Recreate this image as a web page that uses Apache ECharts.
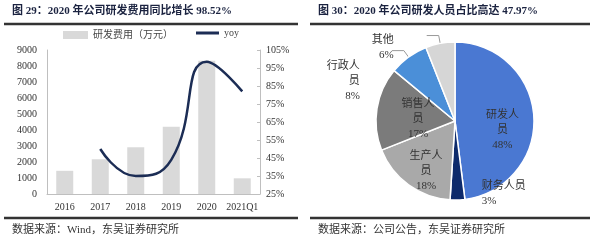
<!DOCTYPE html>
<html><head><meta charset="utf-8">
<script src="https://cdn.jsdelivr.net/npm/echarts@6/dist/echarts.min.js"></script>
<style>html,body{margin:0;padding:0;background:#fff}#c{width:600px;height:241px}</style>
</head><body><div id="c"></div>
<script>
var categories = ['2016','2017','2018','2019','2020','2021Q1'];
var rdExpense = [1450, 2170, 2920, 4200, 8330, 980];
var yoy = [null, 50, 35, 44, 98.52, 82];
var leftTicks = [0, 9000, 1000];
var rightTicks = [25, 105, 10];
var pieNames = ['研发人员','财务人员','生产人员','销售人员','行政人员','其他'];
var pieValues = [48, 3, 18, 17, 8, 6];

var serif = '"Liberation Serif","Noto Sans CJK SC",serif';
var cjk = '"Liberation Serif","Noto Sans CJK SC",sans-serif';
var pieColors = ['#4a78d2','#0d2a6b','#a9a9a9','#7b7b7b','#4b8fd8','#d6d6d6'];
var inside = {0:true,2:true,3:true};
var labelText = {0:'研发人\n员\n48%',1:'财务人员\n3%',2:'生产人\n员\n18%',3:'销售人\n员\n17%',4:'行政人\n员\n8%',5:'其他\n6%'};
var labelShift = {0:[5,12],1:[7,-14],2:[-4,16],3:[5,5],4:[-27,30],5:[-28,12]};

var pieData = pieNames.map(function(n,i){
  return {name:n, value:pieValues[i], itemStyle:{color:pieColors[i]},
    label:{position: inside[i] ? 'inside' : 'outside', formatter: labelText[i]},
    labelLine:{show: i===4 || i===5}};
});

var chart = echarts.init(document.getElementById('c'), null, {renderer:'canvas'});
chart.setOption({
  animation:false,
  graphic:[
    {type:'text', left:12, top:6, style:{text:'图 29：2020 年公司研发费用同比增长 98.52%', font:'bold 11px '+cjk, fill:'#1b2340'}},
    {type:'text', left:318, top:6, style:{text:'图 30：2020 年公司研发人员占比高达 47.97%', font:'bold 11px '+cjk, fill:'#1b2340'}},
    {type:'line', shape:{x1:4,y1:24,x2:298,y2:24}, style:{stroke:'#333',lineWidth:2.5}},
    {type:'line', shape:{x1:310,y1:24,x2:590,y2:24}, style:{stroke:'#333',lineWidth:2.5}},
    {type:'line', shape:{x1:4,y1:218,x2:298,y2:218}, style:{stroke:'#333',lineWidth:2.5}},
    {type:'line', shape:{x1:310,y1:218,x2:590,y2:218}, style:{stroke:'#333',lineWidth:2.5}},
    {type:'text', left:12, top:225, style:{text:'数据来源：Wind，东吴证券研究所', font:'11px '+cjk, fill:'#333'}},
    {type:'text', left:318, top:225, style:{text:'数据来源：公司公告，东吴证券研究所', font:'11px '+cjk, fill:'#333'}}
  ],
  legend:[
    {left:58, top:25, itemWidth:25, itemHeight:8,
     textStyle:{fontSize:10, fontFamily:cjk, color:'#444'},
     data:[{name:'研发费用（万元）', icon:'rect'}]},
    {left:191, top:23, itemWidth:23, itemHeight:3, itemGap:2,
     textStyle:{fontSize:10, fontFamily:cjk, color:'#444'},
     data:[{name:'yoy', icon:'rect'}]}
  ],
  grid:{left:47, right:340, top:50, bottom:47},
  xAxis:{type:'category', data:categories,
    axisLine:{lineStyle:{color:'#bfbfbf'}}, axisTick:{show:false},
    axisLabel:{fontFamily:serif, fontSize:10, color:'#333', margin:8, interval:0}},
  yAxis:[
    {type:'value', min:leftTicks[0], max:leftTicks[1], interval:leftTicks[2],
     axisLine:{show:true, lineStyle:{color:'#bfbfbf'}}, axisTick:{show:false}, splitLine:{show:false},
     axisLabel:{fontFamily:serif, fontSize:10, color:'#333', margin:10, formatter:function(v){return String(v);}}},
    {type:'value', min:rightTicks[0], max:rightTicks[1], interval:rightTicks[2],
     axisLine:{show:true, lineStyle:{color:'#bfbfbf'}}, axisTick:{show:true, inside:true, length:3, lineStyle:{color:'#bfbfbf'}}, splitLine:{show:false},
     axisLabel:{fontFamily:serif, fontSize:10, color:'#333', margin:6, formatter:'{value}%'}}
  ],
  series:[
    {name:'研发费用（万元）', type:'bar', data:rdExpense, barWidth:17, itemStyle:{color:'#d9d9d9'}},
    {name:'yoy', type:'line', yAxisIndex:1, data:yoy, smooth:true, symbol:'none',
     lineStyle:{color:'#1c2d55', width:2.5}, itemStyle:{color:'#1c2d55'}},
    {name:'pie', type:'pie', center:[455,121], radius:79, startAngle:90, clockwise:true,
     avoidLabelOverlap:false,
     data:pieData, itemStyle:{borderColor:'#fff', borderWidth:1.5},
     label:{fontFamily:cjk, fontSize:11, color:'#333', lineHeight:15, align:'center'},
     labelLine:{length:8, length2:12, lineStyle:{color:'#999', width:1}},
     labelLayout:function(p){ var s = labelShift[p.dataIndex]; return {dx:s[0], dy:s[1]}; }}
  ]
});
</script></body></html>
